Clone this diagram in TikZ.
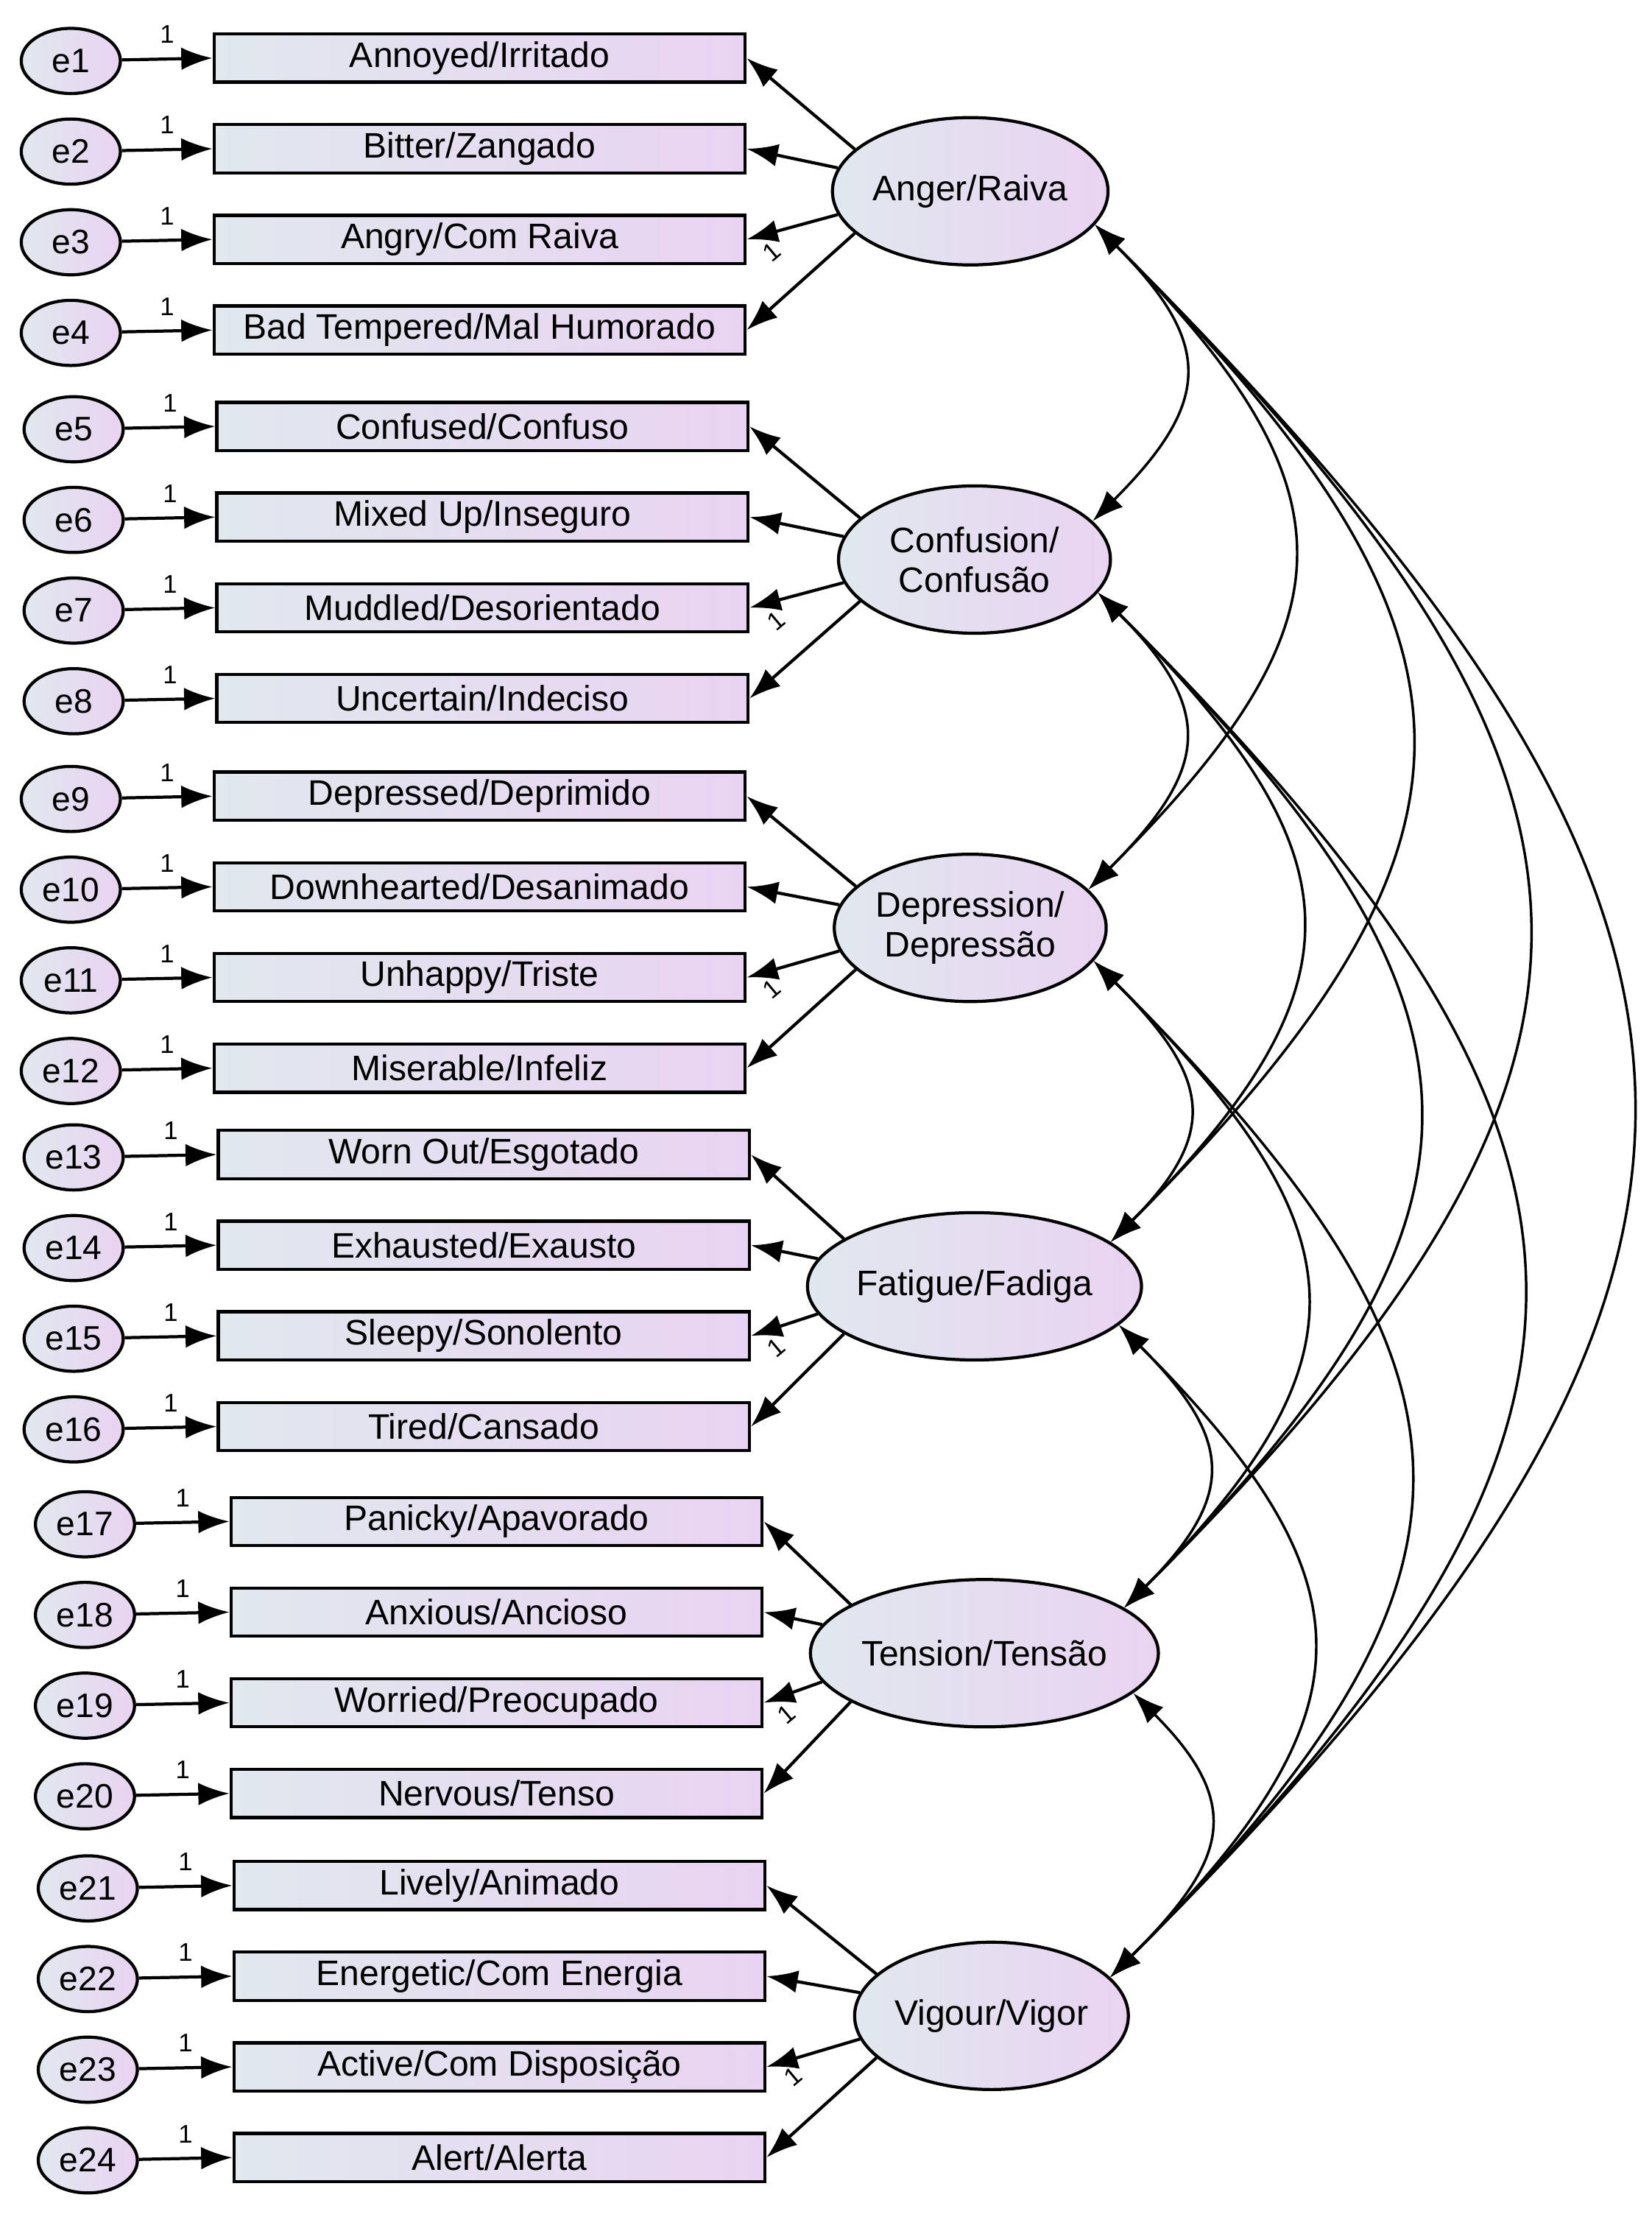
\documentclass[tikz,border=0pt]{standalone}
\usepackage{fontspec}
\setmainfont{Liberation Sans}
\usetikzlibrary{shapes.geometric,arrows.meta,calc}
\definecolor{gL}{HTML}{E1E8EE}
\definecolor{gR}{HTML}{E9D3F2}
\begin{document}
\begin{tikzpicture}[x=0.5pt,y=0.5pt,
  grad/.style={left color=gL, right color=gR, draw=black, line width=1.1pt},
  box/.style={grad, rectangle, minimum width=187.5pt, minimum height=17pt, inner sep=0pt, font=\fontsize{12.5}{14}\selectfont, anchor=west},
  err/.style={grad, ellipse, minimum width=35pt, minimum height=23pt, inner sep=0pt, font=\fontsize{12}{14}\selectfont},
  lat/.style={grad, ellipse, minimum width=96pt, minimum height=52pt, inner sep=0pt, align=center, font=\fontsize{12.5}{14}\selectfont},
  arr/.style={-{Latex[length=11pt,width=8pt]}, line width=1.1pt},
  cov/.style={{Latex[length=11pt,width=8pt]}-{Latex[length=11pt,width=8pt]}, line width=0.9pt},
  one/.style={font=\fontsize{9}{10}\selectfont, inner sep=0pt}]
\useasboundingbox (0,0) rectangle (1166,-1565);
% latent variables
\node[lat] (L1) at (685,-135) {Anger/Raiva};
\node[lat] (L2) at (688,-395) {Confusion/\\Confusão};
\node[lat] (L3) at (685,-655) {Depression/\\Depressão};
\node[lat] (L4) at (688,-908) {Fatigue/Fadiga};
\node[lat] (L5) at (695,-1167) {Tension/Tensão};
\node[lat] (L6) at (700,-1423) {Vigour/Vigor};
% items
\def\items{{"Annoyed/Irritado","Bitter/Zangado","Angry/Com Raiva","Bad Tempered/Mal Humorado",
"Confused/Confuso","Mixed Up/Inseguro","Muddled/Desorientado","Uncertain/Indeciso",
"Depressed/Deprimido","Downhearted/Desanimado","Unhappy/Triste","Miserable/Infeliz",
"Worn Out/Esgotado","Exhausted/Exausto","Sleepy/Sonolento","Tired/Cansado",
"Panicky/Apavorado","Anxious/Ancioso","Worried/Preocupado","Nervous/Tenso",
"Lively/Animado","Energetic/Com Energia","Active/Com Disposição","Alert/Alerta"}}
\def\gy{{41,301,562,815,1074,1331}}
\def\bx{{150,152,150,153,162,164}}
\def\ex{{50,52,50,52,60,62}}
\def\st{{160,170,190,200}}
\foreach \g in {0,...,5}{
  \pgfmathtruncatemacro{\gg}{\g+1}
  \foreach \i in {0,...,3}{
    \pgfmathtruncatemacro{\n}{4*\g+\i}
    \pgfmathtruncatemacro{\nn}{\n+1}
    \pgfmathsetmacro{\yy}{\gy[\g]+64*\i}
    \pgfmathsetmacro{\xb}{\bx[\g]}
    \pgfmathsetmacro{\xe}{\ex[\g]}
    \pgfmathsetmacro{\txt}{\items[\n]}
    \pgfmathtruncatemacro{\ang}{\st[\i]}
    \node[box] (b\nn) at (\xb,-\yy) {\txt};
    \node[err] (e\nn) at (\xe,-\yy-2) {e\nn};
    \draw[arr] (e\nn) -- node[one, pos=0.5, above=5pt]{1} (b\nn.west);
    \draw[arr] (L\gg.\ang) -- (b\nn.east);
  }
  \node[one, rotate=40] at ($(L\gg)+(-140,-43)$) {1};
}
% covariances
\foreach \a in {1,...,5}{
  \pgfmathtruncatemacro{\s}{\a+1}
  \foreach \b in {\s,...,6}{
    \draw[cov] (L\a.-15) to[out=-45,in=45,looseness=1.45] (L\b.18);
  }
}
\end{tikzpicture}
\end{document}
